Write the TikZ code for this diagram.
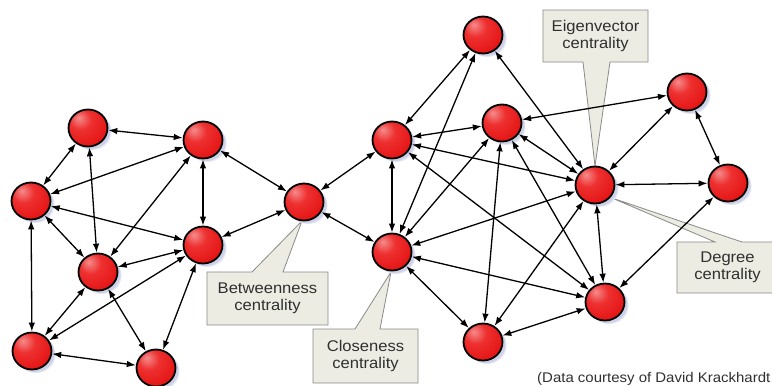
\documentclass[tikz,border=0pt]{standalone}
\usepackage{fontspec}
\usetikzlibrary{arrows.meta,shapes.geometric,shadows}
\newfontfamily\calloutfont[FakeStretch=1.07]{Liberation Sans}

% palette
\definecolor{hl}{HTML}{F58C8C}
\definecolor{rmid}{HTML}{EE3030}
\definecolor{rmain}{HTML}{E20C0C}
\definecolor{rdark}{HTML}{B80000}
\definecolor{shadowc}{HTML}{CDD2E8}
\definecolor{boxfill}{HTML}{ECECE2}
\definecolor{boxline}{HTML}{8A8A8A}
\definecolor{txt}{HTML}{303030}

% red node fill with a highlight towards the upper left
\pgfdeclareradialshading{nodered}{\pgfpoint{-12bp}{14bp}}{%
  color(0bp)=(hl); color(14bp)=(rmid); color(40bp)=(rmain);
  color(64bp)=(rdark); color(80bp)=(rdark)}

\tikzset{
  ball/.style={ellipse, minimum width=39pt, minimum height=37pt, inner sep=0pt,
    draw=black, line width=1.8pt, shade, shading=nodered,
    general shadow={shadow xshift=4pt, shadow yshift=-3.5pt, fill=shadowc!55},
    general shadow={shadow xshift=3pt, shadow yshift=-2.5pt, fill=shadowc}},
  link/.style={{Latex[length=9pt,width=6.5pt]}-{Latex[length=9pt,width=6.5pt]},
    line width=1.3pt, draw=black},
  callout/.style={fill=boxfill, draw=boxline, line width=0.8pt, line join=miter},
  calltext/.style={font=\calloutfont\fontsize{15.5}{17.5}\selectfont, text=txt,
    align=center, inner sep=0pt},
  credit/.style={font=\calloutfont\fontsize{14}{16}\selectfont, text=txt,
    inner sep=0pt, anchor=base west}
}

\begin{document}
\begin{tikzpicture}[x=1pt,y=-1pt]
\useasboundingbox (0,0) rectangle (772,386);
\clip (0,0) rectangle (772,386);
\fill[white] (0,0) rectangle (772,386);

% callout boxes with their pointers
\draw[callout] (207,272) -- (252,272) -- (302,221) -- (283,272) -- (328,272)
  -- (328,325) -- (207,325) -- cycle;
\draw[callout] (313,329) -- (355,329) -- (391,272) -- (380,329) -- (418,329)
  -- (418,383) -- (313,383) -- cycle;
\draw[callout] (543,10) -- (648,10) -- (648,62) -- (610,62) -- (595,166)
  -- (583,62) -- (543,62) -- cycle;
\draw[callout] (677,242) -- (715,242) -- (612,198) -- (742,242) -- (778,242)
  -- (778,293) -- (677,293) -- cycle;

% left group
\node[ball] (A) at (88,128) {};
\node[ball] (B) at (203,140) {};
\node[ball] (C) at (31,201) {};
\node[ball] (D) at (203,245) {};
\node[ball] (E) at (98,272) {};
\node[ball] (F) at (32,351) {};
\node[ball] (G) at (156,368) {};
% bridge
\node[ball] (H) at (304,202) {};
% right group
\node[ball] (I) at (392,140) {};
\node[ball] (J) at (392,252) {};
\node[ball] (K) at (483,35) {};
\node[ball] (L) at (502,123) {};
\node[ball] (M) at (595,185) {};
\node[ball] (N) at (687,92) {};
\node[ball] (O) at (728,183) {};
\node[ball] (P) at (605,302) {};
\node[ball] (Q) at (483,342) {};

% ties in the left group
\foreach \u/\v in {A/B, A/C, A/E, B/C, B/D, B/E, C/D, C/E, C/F, D/E, D/F,
                   D/G, E/F, E/G, F/G, B/H, D/H}
  \draw[link] (\u) -- (\v);
% ties across the bridge
\foreach \u/\v in {H/I, H/J}
  \draw[link] (\u) -- (\v);
% ties in the right group
\foreach \u/\v in {I/J, I/K, I/L, I/M, I/P, J/K, J/L, J/M, J/P, J/Q, K/M,
                   L/M, L/N, L/P, L/Q, M/N, M/O, M/P, M/Q, N/O, O/P, P/Q}
  \draw[link] (\u) -- (\v);

% callout texts
\node[calltext] (tbtw) at (267.5,298.5) {Betweenness\\centrality};
\node[calltext] (tclo) at (365.5,356) {Closeness\\centrality};
\node[calltext] (teig) at (595.5,36) {Eigenvector\\centrality};
\node[calltext] (tdeg) at (727.5,267.5) {Degree\\centrality};

\node[credit] (src) at (537,382) {(Data courtesy of David Krackhardt};
\end{tikzpicture}
\end{document}
